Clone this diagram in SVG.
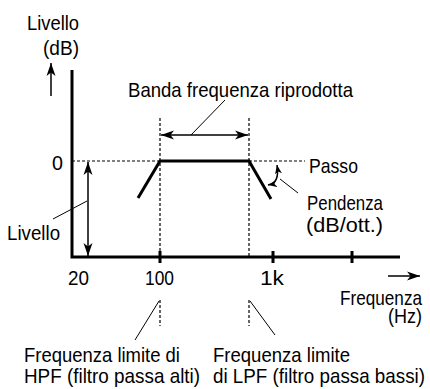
<svg xmlns="http://www.w3.org/2000/svg" width="430" height="389" viewBox="0 0 430 389">
<defs>
<marker id="ah" markerUnits="userSpaceOnUse" markerWidth="14" markerHeight="10" refX="13" refY="5" orient="auto-start-reverse">
<path d="M0,0.5 L13,5 L0,9.5 L3.5,5 z" fill="#000"/>
</marker>
<marker id="ahs" markerUnits="userSpaceOnUse" markerWidth="10" markerHeight="8" refX="9" refY="4" orient="auto-start-reverse">
<path d="M0,0.5 L9,4 L0,7.5 L2.5,4 z" fill="#000"/>
</marker>
</defs>
<style>
text{font-family:"Liberation Sans",Arial,sans-serif;font-size:21px;fill:#000}
.ax{stroke:#000;stroke-width:3;fill:none}
.curve{stroke:#000;stroke-width:3;fill:none;stroke-linejoin:miter}
.dash{stroke:#000;stroke-width:1.2;stroke-dasharray:3,2;fill:none}
.thin{stroke:#000;stroke-width:1;fill:none}
.arr{stroke:#000;stroke-width:1.5;fill:none}
</style>
<rect width="430" height="389" fill="#fff"/>
<g id="axes">
<path class="ax" d="M72,70 V257 H400"/>
<path class="ax" stroke-width="2" d="M160,251 V263 M273,251 V263 M352,251 V263"/>
</g>
<g id="connectors">
<path class="dash" d="M72,161 H160 M249,161 H305"/>
<path class="dash" d="M160,118 V257 M249,118 V257 M160,300 V326 M249,300 V326"/>
<path class="arr" d="M51,96 V63" marker-end="url(#ah)"/>
<path class="arr" d="M388,276 H420" marker-end="url(#ah)"/>
<path class="arr" d="M88,162 V256" marker-start="url(#ah)" marker-end="url(#ah)"/>
<path class="arr" d="M161,135 H248" marker-start="url(#ah)" marker-end="url(#ah)"/>
<path class="arr" d="M277,165 Q280,183 268,185" marker-start="url(#ahs)" marker-end="url(#ahs)"/>
<path class="thin" d="M191,135 L225,100"/>
<path class="thin" d="M87,201 L53,219"/>
<path class="thin" d="M280,179 L298,193"/>
<path class="thin" d="M159,301 L135,340"/>
<path class="thin" d="M250,301 L275,335"/>
</g>
<g id="curve">
<path class="curve" d="M138,198 L160,161 H249 L271,199"/>
</g>
<g id="labels">
<text transform="matrix(0.85,0,0,1,27,30)" textLength="61.2" lengthAdjust="spacingAndGlyphs">Livello</text>
<text transform="matrix(0.85,0,0,1,43,55)" textLength="42.4" lengthAdjust="spacingAndGlyphs">(dB)</text>
<text transform="matrix(0.85,0,0,1,128,97)" textLength="264.7" lengthAdjust="spacingAndGlyphs">Banda frequenza riprodotta</text>
<text transform="matrix(0.85,0,0,1,52,170)" textLength="12.9" lengthAdjust="spacingAndGlyphs">0</text>
<text transform="matrix(0.85,0,0,1,309,173)" textLength="57.6" lengthAdjust="spacingAndGlyphs">Passo</text>
<text transform="matrix(0.85,0,0,1,307,210)" textLength="89.4" lengthAdjust="spacingAndGlyphs">Pendenza</text>
<text transform="matrix(0.85,0,0,1,306,232)" textLength="90.6" lengthAdjust="spacingAndGlyphs">(dB/ott.)</text>
<text transform="matrix(0.85,0,0,1,7,240)" textLength="62.4" lengthAdjust="spacingAndGlyphs">Livello</text>
<text transform="matrix(0.85,0,0,1,68,285)" textLength="24.7" lengthAdjust="spacingAndGlyphs">20</text>
<text transform="matrix(0.85,0,0,1,145,285)" textLength="34.1" lengthAdjust="spacingAndGlyphs">100</text>
<text transform="matrix(0.85,0,0,1,260,285)" textLength="28.2" lengthAdjust="spacingAndGlyphs">1k</text>
<text transform="matrix(0.85,0,0,1,340,305)" textLength="96.5" lengthAdjust="spacingAndGlyphs">Frequenza</text>
<text transform="matrix(0.85,0,0,1,388,323)" textLength="40" lengthAdjust="spacingAndGlyphs">(Hz)</text>
<text transform="matrix(0.85,0,0,1,24,362)" textLength="183.5" lengthAdjust="spacingAndGlyphs">Frequenza limite di</text>
<text transform="matrix(0.85,0,0,1,24,383)" textLength="207.1" lengthAdjust="spacingAndGlyphs">HPF (filtro passa alti)</text>
<text transform="matrix(0.85,0,0,1,213,362)" textLength="161.2" lengthAdjust="spacingAndGlyphs">Frequenza limite</text>
<text transform="matrix(0.85,0,0,1,213,383)" textLength="249.4" lengthAdjust="spacingAndGlyphs">di LPF (filtro passa bassi)</text>
</g>
</svg>
